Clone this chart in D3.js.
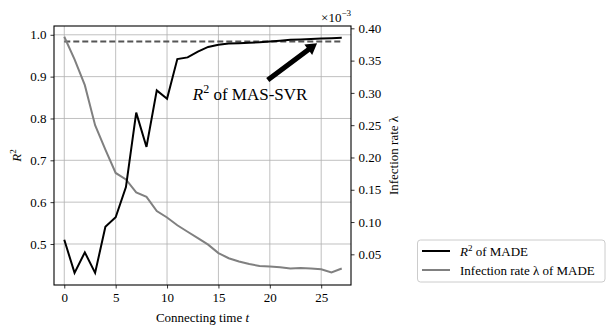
<!DOCTYPE html>
<html>
<head>
<meta charset="utf-8">
<script src="https://cdn.jsdelivr.net/npm/d3@7"></script>
<style>
  body { margin: 0; background: #fff; }
  svg text { font-family: "Liberation Serif", "Times New Roman", serif !important; fill: #000; }
</style>
</head>
<body>
<svg id="chart"></svg>
<script>
// connecting time t
const times = [0, 1, 2, 3, 4, 5, 6, 7, 8, 9, 10, 11, 12, 13, 14, 15, 16, 17, 18, 19, 20, 21, 22, 23, 24, 25, 26, 27]
// R^2 of MADE (left axis)
const r2Made = [0.510, 0.431, 0.480, 0.431, 0.541, 0.564, 0.636, 0.814, 0.732, 0.867, 0.847, 0.942, 0.946, 0.960, 0.971,
    0.976, 0.979, 0.980, 0.981, 0.982, 0.984, 0.986, 0.988, 0.989, 0.990, 0.991, 0.992, 0.993]
// infection rate lambda of MADE, x 1e-3 (right axis)
const lambdaMade = [0.387, 0.352, 0.312, 0.250, 0.212, 0.176, 0.166, 0.146, 0.139, 0.117, 0.107, 0.095, 0.085, 0.075, 0.065,
    0.052, 0.044, 0.039, 0.035, 0.032, 0.031, 0.030, 0.028, 0.029, 0.028, 0.027, 0.022, 0.028]
// R^2 of MAS-SVR (constant reference)
const r2MasSvr = 0.984

const xTicks = [0, 5, 10, 15, 20, 25]
const leftTicks = [0.5, 0.6, 0.7, 0.8, 0.9, 1.0]
const rightTicks = [0.05, 0.10, 0.15, 0.20, 0.25, 0.30, 0.35, 0.40]

// annotation: arrow from text to the MAS-SVR line (data coords)
const arrowTip = [24.6, 0.980]
const arrowTail = [19.8, 0.892]
const textPos = [12.5, 0.845]

const W = 613, H = 332
const plot = { left: 54, right: 351, top: 26, bottom: 285 }
const serif = '"Liberation Serif", "Times New Roman", serif'

const svg = d3.select('#chart')
    .attr('width', W)
    .attr('height', H)
    .attr('font-family', serif)

svg.append('rect')
    .attr('width', W)
    .attr('height', H)
    .style('fill', '#fff')

const x = d3.scaleLinear().domain([-1, 27.9]).range([plot.left, plot.right])
const yL = d3.scaleLinear().domain([0.402, 1.021]).range([plot.bottom, plot.top])
const yR = d3.scaleLinear().domain([0.0025, 0.4036]).range([plot.bottom, plot.top])

// grid
const grid = svg.append('g')
    .style('stroke', '#b0b0b0')
    .style('stroke-width', 0.8)
grid.selectAll('.gx').data(xTicks).join('line')
    .attr('x1', d => x(d)).attr('x2', d => x(d))
    .attr('y1', plot.top).attr('y2', plot.bottom)
grid.selectAll('.gy').data(leftTicks).join('line')
    .attr('x1', plot.left).attr('x2', plot.right)
    .attr('y1', d => yL(d)).attr('y2', d => yL(d))

// dashed MAS-SVR line
svg.append('line')
    .attr('x1', x(times[0]))
    .attr('x2', x(times[times.length - 1]))
    .attr('y1', yL(r2MasSvr))
    .attr('y2', yL(r2MasSvr))
    .style('stroke', '#555')
    .style('stroke-width', 2)
    .style('stroke-dasharray', '6 3')

// infection rate line
svg.append('path')
    .datum(times)
    .attr('d', d3.line().x(d => x(d)).y((d, i) => yR(lambdaMade[i])))
    .style('fill', 'none')
    .style('stroke', '#808080')
    .style('stroke-width', 2)

// R^2 line
svg.append('path')
    .datum(times)
    .attr('d', d3.line().x(d => x(d)).y((d, i) => yL(r2Made[i])))
    .style('fill', 'none')
    .style('stroke', '#000')
    .style('stroke-width', 2)

// frame
svg.append('rect')
    .attr('x', plot.left)
    .attr('y', plot.top)
    .attr('width', plot.right - plot.left)
    .attr('height', plot.bottom - plot.top)
    .style('fill', 'none')
    .style('stroke', '#000')
    .style('stroke-width', 1.1)

// axes
function styleAxis(g) {
    g.attr('font-family', serif).attr('font-size', 13)
    g.select('.domain').remove()
    g.selectAll('.tick line').style('stroke', '#000').style('stroke-width', 0.8)
}

svg.append('g')
    .attr('transform', `translate(0,${plot.bottom})`)
    .call(d3.axisBottom(x).tickValues(xTicks).tickFormat(d3.format('d')).tickSize(3.5).tickPadding(4))
    .call(styleAxis)

svg.append('g')
    .attr('transform', `translate(${plot.left},0)`)
    .call(d3.axisLeft(yL).tickValues(leftTicks).tickFormat(d3.format('.1f')).tickSize(3.5).tickPadding(4))
    .call(styleAxis)

svg.append('g')
    .attr('transform', `translate(${plot.right},0)`)
    .call(d3.axisRight(yR).tickValues(rightTicks).tickFormat(d3.format('.2f')).tickSize(3.5).tickPadding(4))
    .call(styleAxis)

// offset text x10^-3, right-aligned on the right spine
const off = svg.append('text')
    .attr('x', plot.right)
    .attr('y', 22)
    .attr('text-anchor', 'end')
    .style('font-size', '13px')
off.append('tspan').text('×10')
off.append('tspan').attr('dy', -6).style('font-size', '9px').text('−3')

// axis labels
svg.append('text')
    .attr('x', (plot.left + plot.right) / 2)
    .attr('y', 322)
    .attr('text-anchor', 'middle')
    .style('font-size', '13px')
    .call(t => {
        t.append('tspan').text('Connecting time ')
        t.append('tspan').style('font-style', 'italic').text('t')
    })

const r2Label = svg.append('text')
    .attr('transform', `translate(21,${(plot.top + plot.bottom) / 2}) rotate(-90)`)
    .attr('text-anchor', 'middle')
    .style('font-size', '13px')
r2Label.append('tspan').style('font-style', 'italic').text('R')
r2Label.append('tspan').attr('dy', -5).style('font-size', '9px').text('2')

svg.append('text')
    .attr('transform', `translate(398,${(plot.top + plot.bottom) / 2}) rotate(-90)`)
    .attr('text-anchor', 'middle')
    .style('font-size', '13px')
    .text('Infection rate λ')

// annotation arrow
const tip = [x(arrowTip[0]), yL(arrowTip[1])]
const tail = [x(arrowTail[0]), yL(arrowTail[1])]
const ang = Math.atan2(tip[1] - tail[1], tip[0] - tail[0])
const len = Math.hypot(tip[0] - tail[0], tip[1] - tail[1])
const shaftW = 2.6, headW = 6.5, headL = 11
svg.append('path')
    .attr('transform', `translate(${tail[0]},${tail[1]}) rotate(${ang * 180 / Math.PI})`)
    .attr('d', `M0,${-shaftW} L${len - headL},${-shaftW} L${len - headL},${-headW} L${len},0 ` +
        `L${len - headL},${headW} L${len - headL},${shaftW} L0,${shaftW} Z`)
    .style('fill', '#000')

const ann = svg.append('text')
    .attr('x', x(textPos[0]))
    .attr('y', yL(textPos[1]))
    .style('font-size', '17px')
ann.append('tspan').style('font-style', 'italic').text('R')
ann.append('tspan').attr('dy', -7).style('font-size', '12px').text('2')
ann.append('tspan').attr('dy', 7).text(' of MAS-SVR')

// legend
const lg = svg.append('g')
lg.append('rect')
    .attr('x', 417.5).attr('y', 240)
    .attr('width', 187.5).attr('height', 42)
    .attr('rx', 3)
    .style('fill', '#fff')
    .style('stroke', '#ccc')
    .style('stroke-width', 1)
const legendItems = [
    { color: '#000', y: 251 },
    { color: '#808080', y: 270 }
]
lg.selectAll('line.item').data(legendItems).join('line')
    .attr('x1', 422).attr('x2', 450)
    .attr('y1', d => d.y).attr('y2', d => d.y)
    .style('stroke', d => d.color)
    .style('stroke-width', 2)
const l1 = lg.append('text').attr('x', 460).attr('y', 255.5).style('font-size', '13px')
l1.append('tspan').style('font-style', 'italic').text('R')
l1.append('tspan').attr('dy', -5).style('font-size', '9px').text('2')
l1.append('tspan').attr('dy', 5).text(' of MADE')
lg.append('text').attr('x', 460).attr('y', 274.5).style('font-size', '13px')
    .text('Infection rate λ of MADE')
</script>
</body>
</html>
